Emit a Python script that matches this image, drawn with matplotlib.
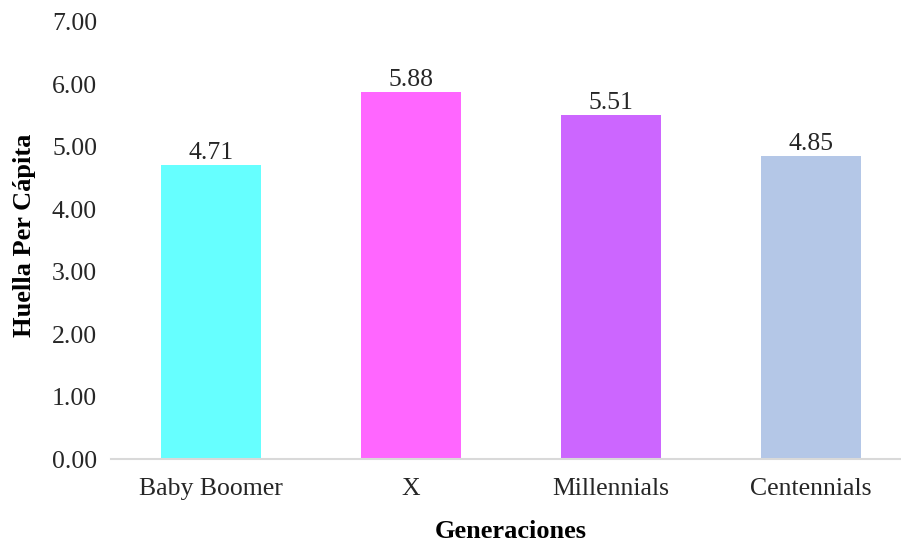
import matplotlib
matplotlib.use("Agg")
import matplotlib.pyplot as plt

# Huella per cápita por generación
generaciones = ["Baby Boomer", "X", "Millennials", "Centennials"]
huella = [4.71, 5.88, 5.51, 4.85]
colores = ["#66FFFF", "#FF66FF", "#CC66FF", "#B4C7E7"]
yticks = [0, 1, 2, 3, 4, 5, 6, 7]

plt.rcParams["font.family"] = ["Liberation Serif", "DejaVu Serif"]

W, H = 901, 541
fig = plt.figure(figsize=(W / 100, H / 100), dpi=100)
left, right, top, bottom = 111, 911, 22, 459
ax = fig.add_axes([left / W, 1 - bottom / H, (right - left) / W, (bottom - top) / H])

x = range(len(generaciones))
bars = ax.bar(x, huella, width=0.5, color=colores, zorder=2)

for xi, v in zip(x, huella):
    ax.annotate(f"{v:.2f}", (xi, v), xytext=(0, 1), textcoords="offset points",
                ha="center", va="bottom", fontsize=18.5, color="#262626")

ax.set_xlim(-0.5, len(generaciones) - 0.5)
ax.set_ylim(0, 7)
ax.set_yticks(yticks)
ax.set_yticklabels([f"{t:.2f}" for t in yticks])
ax.set_xticks(list(x))
ax.set_xticklabels(generaciones)

for s in ["top", "right", "left"]:
    ax.spines[s].set_visible(False)
ax.spines["bottom"].set_color("#D9D9D9")
ax.spines["bottom"].set_linewidth(1.5)
ax.tick_params(axis="both", length=0, labelsize=18.5, labelcolor="#262626")
ax.tick_params(axis="y", pad=10)
ax.tick_params(axis="x", pad=14)

ax.set_ylabel("Huella Per Cápita", fontsize=19, fontweight="bold")
ax.set_xlabel("Generaciones", fontsize=19, fontweight="bold")
ax.xaxis.set_label_coords((511 - left) / (right - left), -(531 - bottom) / (bottom - top))
ax.yaxis.set_label_coords(-(111 - 25) / (right - left), (bottom - 235) / (bottom - top))
ax.xaxis.label.set_va("center")
ax.yaxis.label.set_va("center")

fig.savefig("out.png", dpi=100)
